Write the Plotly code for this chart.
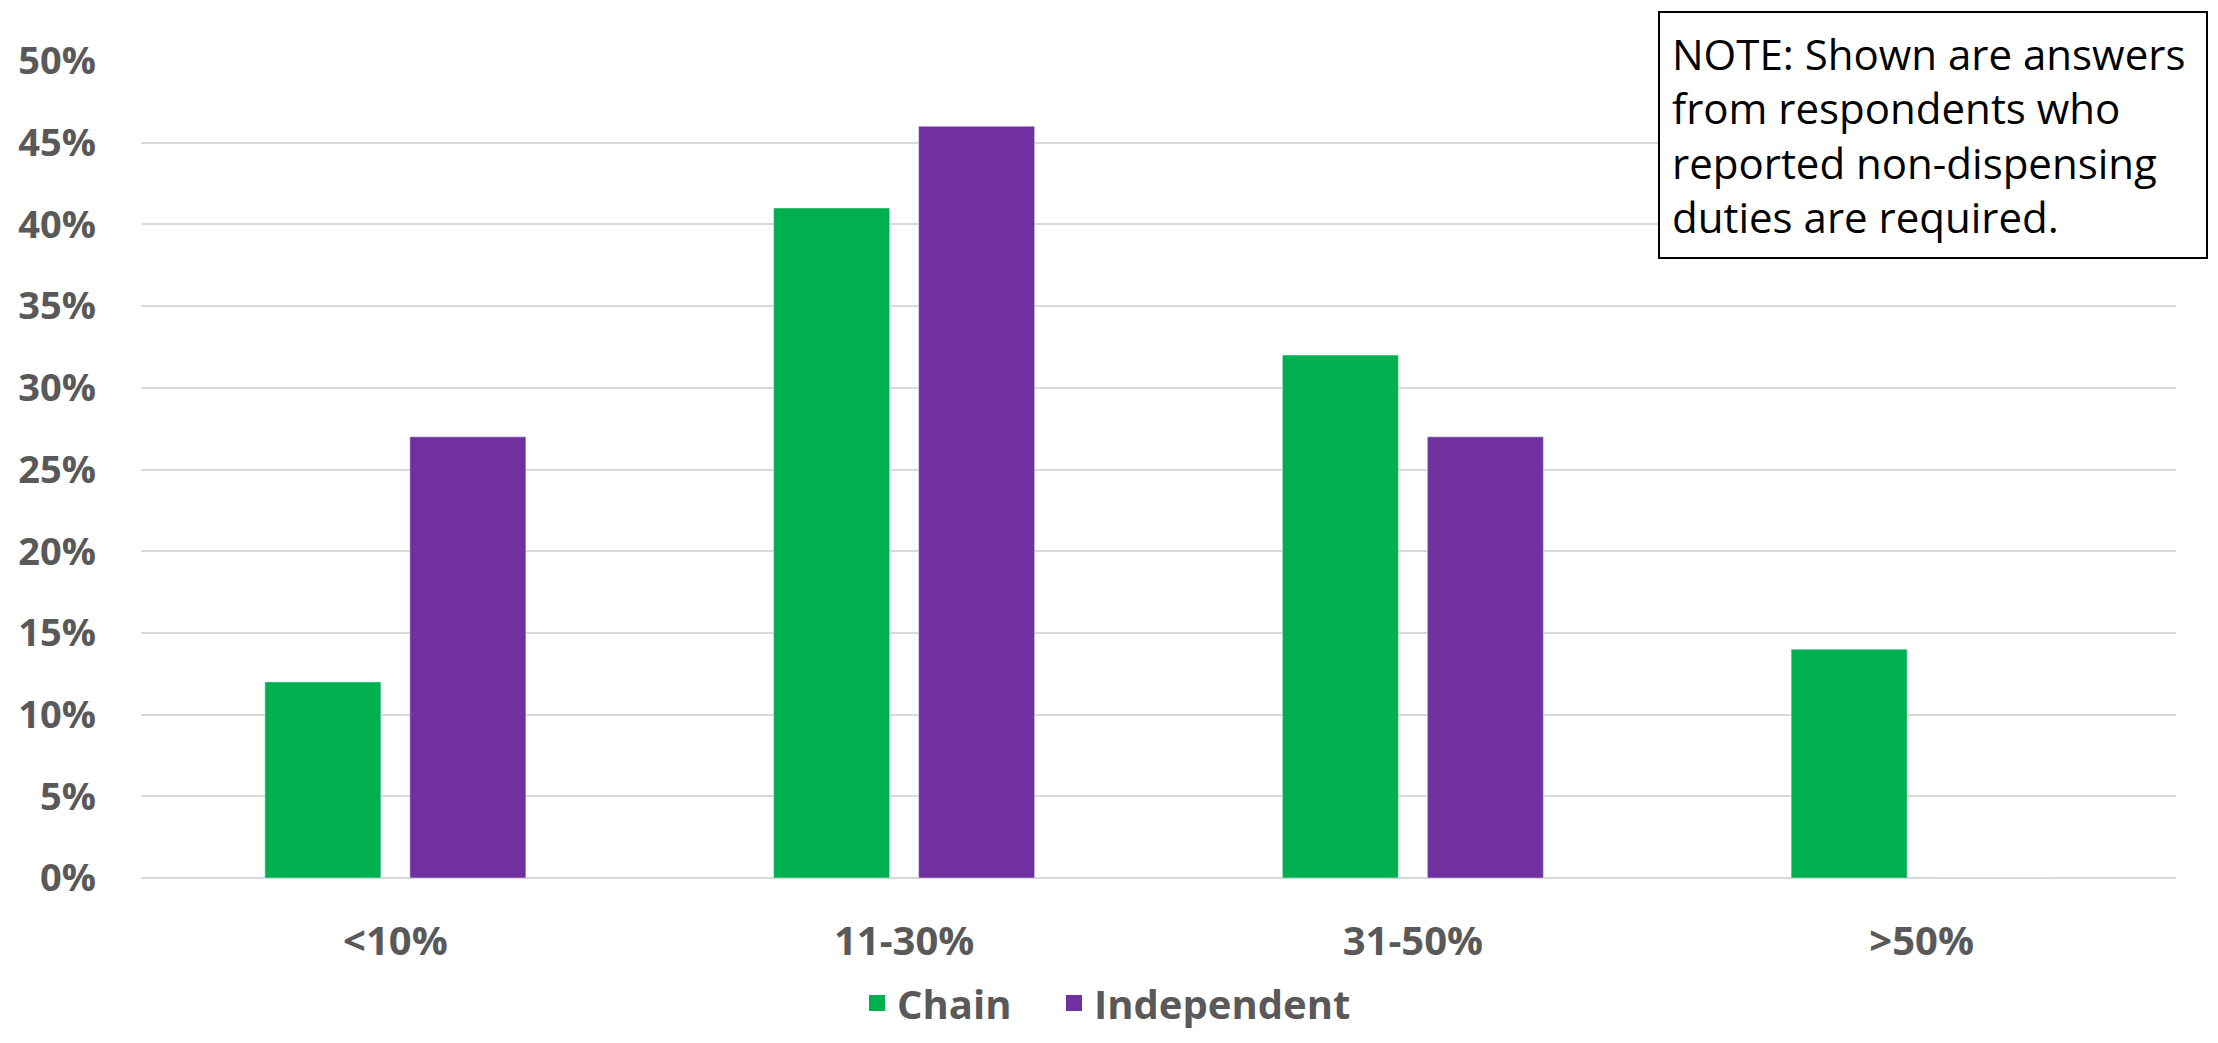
import plotly.graph_objects as go

categories = ["<10%", "11-30%", "31-50%", ">50%"]
chain = [0.12, 0.41, 0.32, 0.14]
independent = [0.27, 0.46, 0.27, 0]
tick_vals = [0, 0.05, 0.10, 0.15, 0.20, 0.25, 0.30, 0.35, 0.40, 0.45, 0.50]
note_text = "NOTE: Shown are answers<br>from respondents who<br>reported non-dispensing<br>duties are required."

FONT = "Open Sans"
GRAY = "#595959"
GREEN = "#00B050"
PURPLE = "#7030A0"

# absolute target plot-area box (page pixels); page body has 8px margin
PX0, PX1, PY0, PY1 = 141, 2176, 61, 878
OFF = 8
W, H = 2218 - 2 * OFF, 1043 - 2 * OFF
L, T = PX0 - OFF, PY0 - OFF
R = (OFF + W) - PX1
B = (OFF + H) - PY1
PW, PH = PX1 - PX0, PY1 - PY0


def px(xabs):
    return (xabs - PX0) / PW


def py(yabs):
    return (PY1 - yabs) / PH


fig = go.Figure()
fig.add_trace(go.Bar(name="Chain", x=categories, y=chain, marker_color=GREEN, showlegend=False))
fig.add_trace(go.Bar(name="Independent", x=categories, y=independent, marker_color=PURPLE, showlegend=False))
# legend entries with larger square swatches, one legend each for exact spacing
fig.add_trace(go.Scatter(name="Chain", x=[None], y=[None], mode="markers", legend="legend",
                         marker=dict(symbol="square", size=26, color=GREEN)))
fig.add_trace(go.Scatter(name="Independent", x=[None], y=[None], mode="markers", legend="legend2",
                         marker=dict(symbol="square", size=26, color=PURPLE)))

leg_common = dict(orientation="h", xanchor="left", y=py(1003), yanchor="middle",
                  font=dict(family=FONT, size=40, color=GRAY, weight="bold"),
                  itemwidth=30, itemsizing="trace", bgcolor="rgba(0,0,0,0)")

fig.update_layout(
    width=W, height=H,
    margin=dict(l=L, r=R, t=T, b=B, autoexpand=False),
    paper_bgcolor="white", plot_bgcolor="white",
    barmode="group", bargap=0.43, bargroupgap=0.2,
    font=dict(family=FONT, color=GRAY),
    legend=dict(x=px(857), **leg_common),
    legend2=dict(x=px(1054), **leg_common),
    xaxis=dict(showgrid=False, showline=False, ticks="",
               tickfont=dict(family=FONT, size=40, color=GRAY, weight="bold"),
               ticklabelstandoff=36),
    yaxis=dict(range=[0, 0.5], tickvals=tick_vals, tickformat=".0%",
               showgrid=True, gridcolor="#D9D9D9", gridwidth=2, zeroline=True,
               zerolinecolor="#D9D9D9", zerolinewidth=2,
               tickfont=dict(family=FONT, size=38, color=GRAY, weight="bold"),
               ticklabelstandoff=44),
)

fig.add_annotation(
    xref="paper", yref="paper", x=px(1658), y=py(11),
    xanchor="left", yanchor="top", align="left", valign="middle", showarrow=False,
    text=note_text,
    font=dict(family=FONT, size=42, color="black"),
    bordercolor="black", borderwidth=2, borderpad=12, bgcolor="white",
    width=522, height=220,
)

fig.write_html("out.html")
